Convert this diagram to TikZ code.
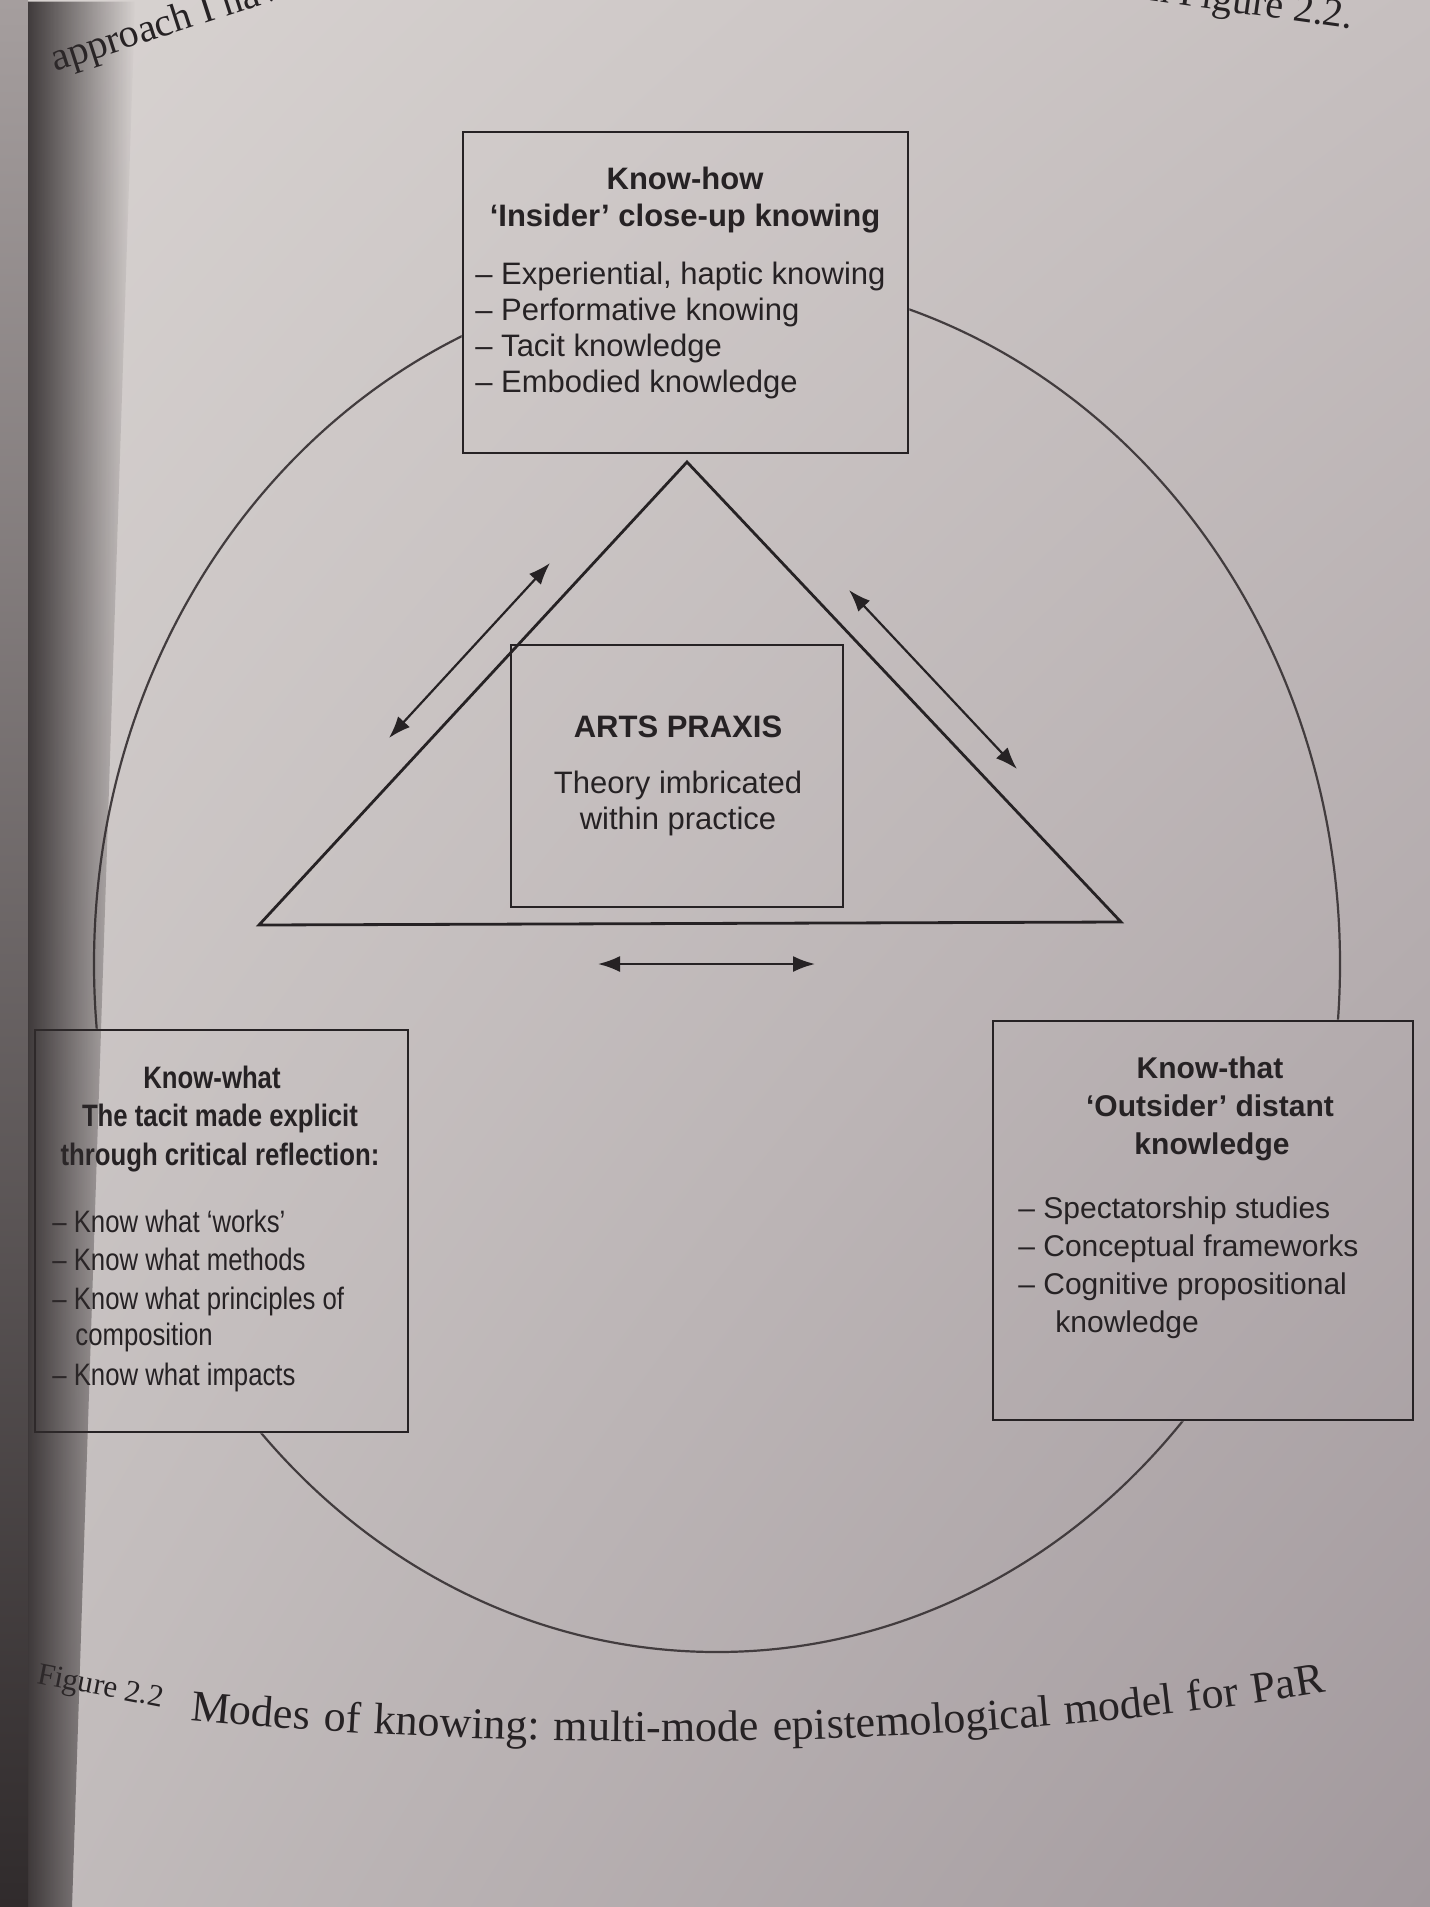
\documentclass[tikz,border=0pt]{standalone}
\usepackage{fontspec}
\setmainfont{Liberation Serif}
\setsansfont{Liberation Sans}
\newfontfamily\narrowsans[FakeStretch=0.83]{Liberation Sans}
\usepackage{tikz}
\usetikzlibrary{%
arrows.meta,%
decorations.text,%
shadings,%
fadings}

\definecolor{ink}{RGB}{38,34,36}
\definecolor{ringink}{RGB}{66,60,62}
\definecolor{paperA}{RGB}{216,211,209}
\definecolor{paperB}{RGB}{198,191,191}
\definecolor{paperC}{RGB}{194,188,188}
\definecolor{paperD}{RGB}{162,153,157}
\definecolor{spine}{RGB}{48,43,44}
\definecolor{pagegap}{RGB}{165,158,158}

\newcommand\bodysize{\fontsize{15.5pt}{18pt}\selectfont}
\newcommand\sidesize{\fontsize{15pt}{18pt}\selectfont}
\newcommand\capfont{\rmfamily\fontsize{22pt}{24pt}\selectfont}

\tikzset{
  pane/.style={draw=ink,line width=1.4pt,inner sep=0pt},
  ring/.style={draw=ringink,line width=1.1pt},
  entry/.style={anchor=base west,inner sep=0pt,text=ink,font=\sffamily\bodysize},
  head/.style={anchor=base,inner sep=0pt,text=ink,font=\sffamily\bfseries\bodysize},
  twoway/.style={{Latex[length=11pt,width=8pt]}-{Latex[length=11pt,width=8pt]},draw=ink,line width=1.1pt},
  pagetext/.style={inner sep=0pt,text=ink,font=\rmfamily\fontsize{20pt}{24pt}\selectfont}
}

\begin{document}
\begin{tikzpicture}[x=0.5pt,y=-0.5pt]
\useasboundingbox (0,0) rectangle (1430,1907);
\shade[upper left=paperA,upper right=paperB,lower left=paperC,lower right=paperD] (0,0) rectangle (1430,1907);

\node[pane,minimum width=222.5pt,minimum height=160.5pt] (knowhow) at (685.5,292.5) {};
\node[pane,minimum width=186.5pt,minimum height=201pt] (knowwhat) at (221.5,1231) {};
\node[pane,minimum width=210pt,minimum height=199.5pt] (knowthat) at (1203,1220.5) {};

\begin{scope}[even odd rule]
\clip (0,0) rectangle (1430,1907)
  (knowhow.north west) rectangle (knowhow.south east)
  (knowwhat.north west) rectangle (knowwhat.south east)
  (knowthat.north west) rectangle (knowthat.south east);
\draw[ring] (717,964) ellipse [x radius=623,y radius=688];
\end{scope}

\coordinate (apex) at (687,462);
\coordinate (baseL) at (259,925);
\coordinate (baseR) at (1121,922);
\draw[pane,line join=miter] (apex) -- (baseL) -- (baseR) -- cycle;
\node[pane,minimum width=166pt,minimum height=131pt] (praxis) at (677,776) {};

\coordinate (la) at (389,738);
\coordinate (lb) at (550,563);
\coordinate (ra) at (849,590);
\coordinate (rb) at (1017,769);
\coordinate (ba) at (598,964);
\coordinate (bb) at (815,964);
\draw[twoway] (la) -- (lb);
\draw[twoway] (ra) -- (rb);
\draw[twoway] (ba) -- (bb);

\node[head] (howtitle) at (685,189) {Know-how};
\node[head] (howsub) at (685,226) {‘Insider’ close-up knowing};
\node[entry] (how1) at (475,284) {– Experiential, haptic knowing};
\node[entry] (how2) at (475,320) {– Performative knowing};
\node[entry] (how3) at (475,356) {– Tacit knowledge};
\node[entry] (how4) at (475,392) {– Embodied knowledge};

\node[head] (praxistitle) at (678,737) {ARTS PRAXIS};
\node[head,font=\sffamily\bodysize] (praxis1) at (678,793) {Theory imbricated};
\node[head,font=\sffamily\bodysize] (praxis2) at (678,829) {within practice};

\node[head,font=\narrowsans\bfseries\bodysize] (whattitle) at (212,1088) {Know-what};
\node[head,font=\narrowsans\bfseries\bodysize] (whatsub1) at (220,1126) {The tacit made explicit};
\node[head,font=\narrowsans\bfseries\bodysize] (whatsub2) at (220,1165) {through critical reflection:};
\node[entry,font=\narrowsans\bodysize] (what1) at (52,1232) {– Know what ‘works’};
\node[entry,font=\narrowsans\bodysize] (what2) at (52,1270) {– Know what methods};
\node[entry,font=\narrowsans\bodysize] (what3) at (52,1309) {– Know what principles of};
\node[entry,font=\narrowsans\bodysize] (what3b) at (75,1345) {composition};
\node[entry,font=\narrowsans\bodysize] (what4) at (52,1385) {– Know what impacts};

\node[head,font=\sffamily\bfseries\sidesize] (thattitle) at (1210,1078) {Know-that};
\node[head,font=\sffamily\bfseries\sidesize] (thatsub1) at (1210,1116) {‘Outsider’ distant};
\node[head,font=\sffamily\bfseries\sidesize] (thatsub2) at (1212,1154) {knowledge};
\node[entry,font=\sffamily\sidesize] (that1) at (1018,1218) {– Spectatorship studies};
\node[entry,font=\sffamily\sidesize] (that2) at (1018,1256) {– Conceptual frameworks};
\node[entry,font=\sffamily\sidesize] (that3) at (1018,1294) {– Cognitive propositional};
\node[entry,font=\sffamily\sidesize] (that3b) at (1055,1332) {knowledge};

\node[pagetext,anchor=base west,rotate=18] (pagetop) at (55,72) {approach I hav};
\node[pagetext,anchor=base east,rotate=-8] (pageref) at (1352,29) {in Figure 2.2.};
\node[pagetext,font=\rmfamily\fontsize{15.5pt}{18pt}\selectfont,anchor=base west,rotate=-11] (figlabel) at (36,1683) {Figure 2.2};
\coordinate (capstart) at (190,1720);
\coordinate (capend) at (1325,1692);
\path[decorate,decoration={text along path,text color=ink,text align={fit to path stretching spaces},
  text={|\capfont|Modes of knowing: multi-mode epistemological model for PaR}}]
  (capstart) .. controls (500,1750) and (950,1755) .. (capend);

\shade[top color=pagegap,bottom color=spine] (0,0) rectangle (28,1907);
\fill[spine,opacity=0.9,path fading=east] (28,0) -- (135,0) -- (72,1907) -- (28,1907) -- cycle;
\end{tikzpicture}
\end{document}
